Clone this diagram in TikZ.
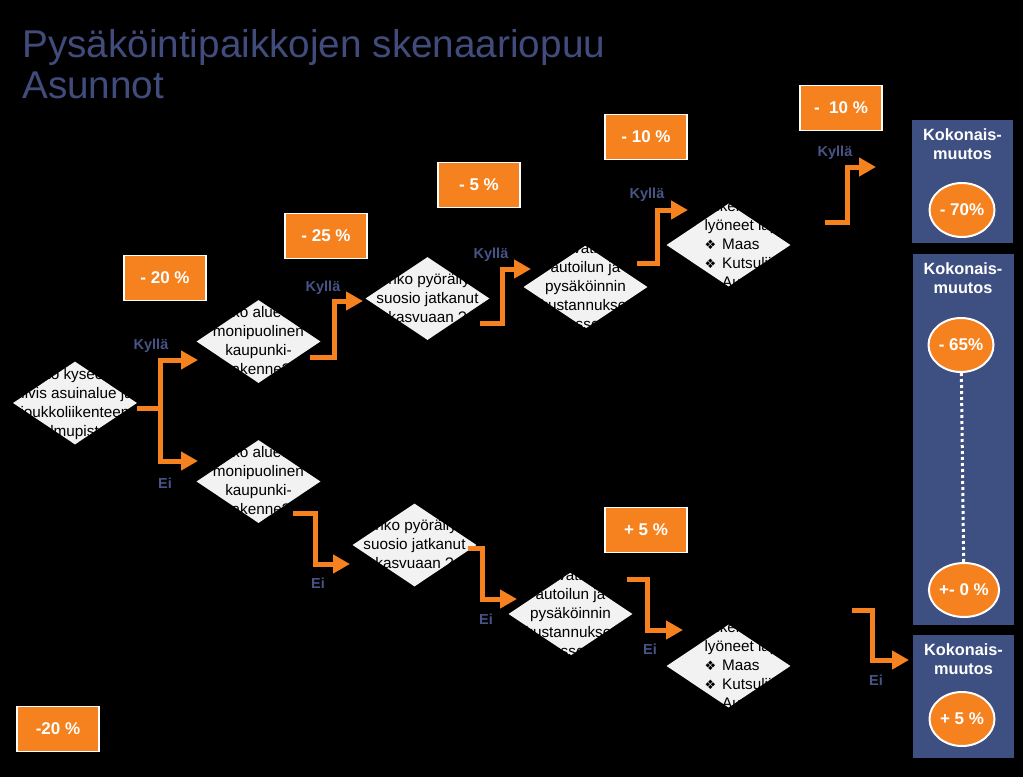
\documentclass[tikz,border=0pt]{standalone}
\usepackage{fontspec}
\setmainfont{Liberation Sans}
\newfontfamily\dingfont{DejaVu Sans}
\usepackage{tikz}
\usetikzlibrary{shapes.geometric, arrows.meta, positioning}
\definecolor{scorange}{RGB}{245,130,31}
\definecolor{scblue}{RGB}{62,79,130}
\definecolor{sctitle}{RGB}{66,76,124}
\definecolor{sclabel}{RGB}{72,84,134}
\definecolor{scdiamond}{RGB}{242,242,242}
% question text keeps the diamond size fixed
\newcommand{\qtext}[1]{\raisebox{-9pt}{\smash{\makebox[0pt]{\begin{tabular}{@{}c@{}}#1\end{tabular}}}}}
\newcommand{\qlist}[1]{\raisebox{-9pt}{\smash{\makebox[0pt][l]{\hspace{-24pt}\begin{tabular}{@{}l@{}}#1\end{tabular}}}}}
\newcommand{\bul}{{\dingfont\fontsize{13}{13}\selectfont ❖}\hspace{6pt}}
\tikzset{
    scenetitle/.style={anchor=base west, inner sep=0pt, font=\fontsize{38.7}{44}\selectfont, text=sctitle},
    question/.style={diamond, fill=scdiamond, minimum width=124pt, minimum height=83pt, inner sep=0pt, font=\fontsize{15.3}{19}\selectfont, text=black},
    percbox/.style={rectangle, fill=scorange, draw=white, line width=1.5pt, minimum width=82pt, minimum height=45pt, inner sep=0pt, font=\fontsize{17}{20}\selectfont\bfseries, text=white},
    flow/.style={draw=scorange, line width=5pt, -{Triangle[length=17pt, width=18pt]}},
    answer/.style={font=\fontsize{14.5}{16}\selectfont\bfseries, text=sclabel, inner sep=0pt},
    totalpanel/.style={rectangle, fill=scblue, minimum width=101pt, inner sep=0pt},
    totalhead/.style={font=\fontsize{16.3}{19}\selectfont\bfseries, text=white, align=center, inner sep=0pt},
    totalball/.style={ellipse, fill=scorange, draw=white, line width=2pt, minimum width=65pt, minimum height=54pt, inner sep=0pt, font=\fontsize{17}{20}\selectfont\bfseries, text=white}
}

\begin{document}
\begin{tikzpicture}[x=1pt, y=-1pt]
\fill[black] (0,0) rectangle (1023,777);
\useasboundingbox (0,0) rectangle (1023,777);

\node[scenetitle] (title) at (22,57) {Pysäköintipaikkojen skenaariopuu};
\node[scenetitle] (subtitle) at (22,98) {Asunnot};

% questions
\node[question] (d1) at (75,403) {\qtext{Onko kyseessä\\tiivis asuinalue ja\\joukkoliikenteen\\solmupiste?}};
\node[question] (d2) at (258.5,341.5) {\qtext{Onko alueella\\monipuolinen\\kaupunki-\\rakenne?}};
\node[question] (d3) at (258.5,481.5) {\qtext{Onko alueella\\monipuolinen\\kaupunki-\\rakenne?}};
\node[question] (d4) at (427.5,298.5) {\qtext{Onko pyöräilyn\\suosio jatkanut\\kasvuaan ?}};
\node[question] (d5) at (414.5,545) {\qtext{Onko pyöräilyn\\suosio jatkanut\\kasvuaan ?}};
\node[question] (d6) at (585.5,287) {\qtext{Ovatko\\autoilun ja\\pysäköinnin\\kustannukset\\nousseet?}};
\node[question] (d7) at (570.5,614) {\qtext{Ovatko\\autoilun ja\\pysäköinnin\\kustannukset\\nousseet?}};
\node[question] (d8) at (728.5,245) {\qlist{Liikennepalvelut\\lyöneet läpi?\\\bul Maas\\\bul Kutsuliikenne\\\bul Autonomiset autot}};
\node[question] (d9) at (728.5,666) {\qlist{Liikennepalvelut\\lyöneet läpi?\\\bul Maas\\\bul Kutsuliikenne\\\bul Autonomiset autot}};

% change per step
\node[percbox] (p1) at (165,278) {- 20 \%};
\node[percbox] (p2) at (326,236) {- 25 \%};
\node[percbox] (p3) at (479,185) {- 5 \%};
\node[percbox] (p4) at (646,137) {- 10 \%};
\node[percbox] (p5) at (841,108) {-\ \ 10 \%};
\node[percbox] (p6) at (646,530) {+ 5 \%};
\node[percbox] (p7) at (58,729) {-20 \%};

% totals
\node[totalpanel, minimum height=123pt] (tot1) at (962.5,181.5) {};
\node[totalpanel, minimum height=371pt] (tot2) at (963,439.5) {};
\node[totalpanel, minimum height=123pt] (tot3) at (963.5,696.5) {};
\node[totalhead, below=9pt of tot1.north] (h1) {Kokonais-\\muutos};
\node[totalhead, below=9pt of tot2.north] (h2) {Kokonais-\\muutos};
\node[totalhead, below=9pt of tot3.north] (h3) {Kokonais-\\muutos};
\node[totalball] (b1) at (962,210) {- 70\%};
\node[totalball] (b2) at (961,345) {- 65\%};
\node[totalball] (b3) at (964,590) {+- 0 \%};
\node[totalball] (b4) at (962,719) {+ 5 \%};
\draw[white, line width=3pt, dash pattern=on 3pt off 3pt] (b2) -- (b3);

% branches
\coordinate (r0) at (137,408);
\coordinate (rf) at (160,408);
\coordinate (rk) at (198,360);
\coordinate (re) at (198,461);
\draw[flow] (r0) -- (rf) |- (rk);
\draw[flow] (r0) -- (rf) |- (re);

\coordinate (k2s) at (310,357);  \coordinate (k2e) at (363,301);
\coordinate (k3s) at (480,323);  \coordinate (k3e) at (531,269);
\coordinate (k4s) at (637,263);  \coordinate (k4e) at (688,210);
\coordinate (k5s) at (825,222);  \coordinate (k5e) at (876,167);
\draw[flow] (k2s) -- ++(24,0) |- (k2e);
\draw[flow] (k3s) -- ++(22,0) |- (k3e);
\draw[flow] (k4s) -- ++(20,0) |- (k4e);
\draw[flow] (k5s) -- ++(22,0) |- (k5e);

\coordinate (e2s) at (293,513);  \coordinate (e2e) at (350,564);
\coordinate (e3s) at (468,548);  \coordinate (e3e) at (517,599);
\coordinate (e4s) at (627,579);  \coordinate (e4e) at (683,630);
\coordinate (e5s) at (852,610);  \coordinate (e5e) at (909,660);
\draw[flow] (e2s) -- ++(22,0) |- (e2e);
\draw[flow] (e3s) -- ++(14,0) |- (e3e);
\draw[flow] (e4s) -- ++(20,0) |- (e4e);
\draw[flow] (e5s) -- ++(20,0) |- (e5e);

\node[answer] (lk1) at (151,346) {Kyllä};
\node[answer] (lk2) at (323,288) {Kyllä};
\node[answer] (lk3) at (491,255) {Kyllä};
\node[answer] (lk4) at (647,195) {Kyllä};
\node[answer] (lk5) at (835,153) {Kyllä};
\node[answer] (le1) at (165,483) {Ei};
\node[answer] (le2) at (318,583) {Ei};
\node[answer] (le3) at (486,619) {Ei};
\node[answer] (le4) at (650,649) {Ei};
\node[answer] (le5) at (876,680) {Ei};

\end{tikzpicture}
\end{document}
